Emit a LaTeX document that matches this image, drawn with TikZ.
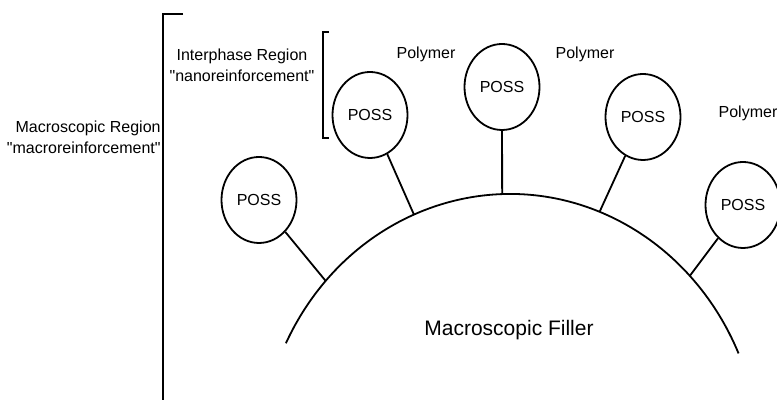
\documentclass[tikz,border=0pt]{standalone}
\usepackage{fontspec}
\setmainfont{Liberation Sans}
\usetikzlibrary{shapes.geometric,positioning}

\begin{document}
\begin{tikzpicture}[
    x=0.5pt, y=0.5pt,
    poss/.style={ellipse, draw, line width=0.9pt, minimum width=37.5pt, minimum height=43pt, inner sep=0pt, font=\fontsize{8}{10}\selectfont},
    lbl/.style={font=\fontsize{8}{10.5}\selectfont, inner sep=0pt, align=center},
    stem/.style={line width=0.9pt}
]
\useasboundingbox (0,0) rectangle (777,400);

\coordinate (fc) at (510,-62);
\draw[stem] (fc) ++(153.7:250 and 268) arc[start angle=153.7, end angle=23.9, x radius=250, y radius=268];
\path (fc) ++(137.5:250 and 268) coordinate (a1);
\path (fc) ++(112.6:250 and 268) coordinate (a2);
\path (fc) ++(91.8:250 and 268) coordinate (a3);
\path (fc) ++(69:250 and 268) coordinate (a4);
\path (fc) ++(44:250 and 268) coordinate (a5);

\node[poss] (p1) at (259,200) {POSS};
\node[poss] (p2) at (370,285) {POSS};
\node[poss] (p3) at (502,313) {POSS};
\node[poss] (p4) at (643,283) {POSS};
\node[poss] (p5) at (743,195) {POSS};

\node[lbl] (filler) at (509,70) {\fontsize{10.5}{12}\selectfont Macroscopic Filler};
\node[lbl] (poly1) at (426,346) {Polymer};
\node[lbl] (poly2) at (585,346) {Polymer};
\node[lbl] (poly3) at (748,287) {Polymer};
\node[lbl] (inter) at (242,335) {Interphase Region\\\textquotedbl nanoreinforcement\textquotedbl};
\node[lbl, align=right, anchor=east] (macro) at (161,263) {Macroscopic Region\\\textquotedbl macroreinforcement\textquotedbl};

\draw[stem] (183,386) -- (163,386) -- (163,0);
\draw[stem] (329,368) -- (323,368) -- (323,262) -- (329,262);

\draw[stem] (p1) -- (a1);
\draw[stem] (p2) -- (a2);
\draw[stem] (p3) -- (a3);
\draw[stem] (p4) -- (a4);
\draw[stem] (p5) -- (a5);
\end{tikzpicture}
\end{document}
